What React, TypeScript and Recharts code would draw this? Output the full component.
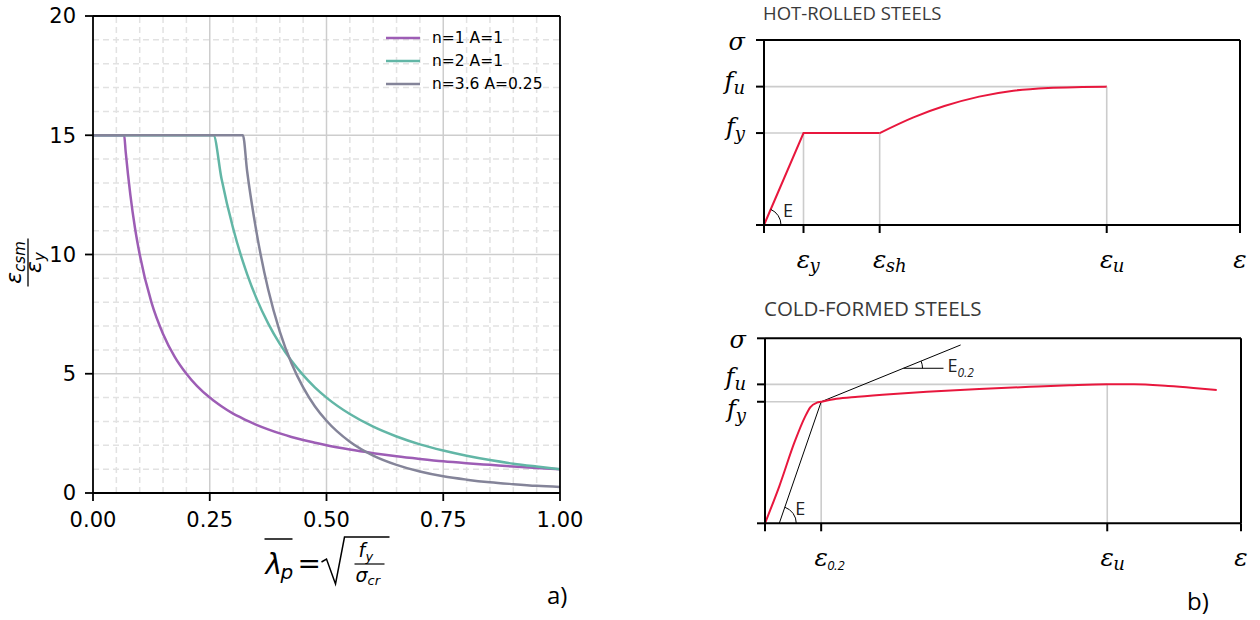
import React from "react";
import { LineChart, Line, XAxis, YAxis, ReferenceLine, ReferenceDot, Legend } from "recharts";

const SANS = "DejaVu Sans";
const MATH = "DejaVu Serif";
const UI = "Open Sans";

// ---- panel a: CSM base curve
const lambdaP = [0, 0.0667, 0.07, 0.08, 0.09, 0.1, 0.125, 0.15, 0.175, 0.2, 0.25, 0.258, 0.275, 0.3, 0.321, 0.33, 0.35, 0.375, 0.4, 0.425, 0.45, 0.475, 0.5, 0.55, 0.6, 0.65, 0.7, 0.75, 0.8, 0.85, 0.9, 0.95, 1.0];
const csmN1A1 = [15, 15, 14.3, 12.5, 11.1, 10, 8, 6.67, 5.71, 5, 4, 3.88, 3.64, 3.33, 3.12, 3.03, 2.86, 2.67, 2.5, 2.35, 2.22, 2.11, 2, 1.82, 1.67, 1.54, 1.43, 1.33, 1.25, 1.18, 1.11, 1.05, 1];
const csmN2A1 = [15, 15, 15, 15, 15, 15, 15, 15, 15, 15, 15, 15, 13.2, 11.1, 9.7, 9.18, 8.16, 7.11, 6.25, 5.54, 4.94, 4.43, 4.0, 3.31, 2.78, 2.37, 2.04, 1.78, 1.56, 1.38, 1.23, 1.11, 1.0];
const csmN36A025 = [15, 15, 15, 15, 15, 15, 15, 15, 15, 15, 15, 15, 15, 15, 15, 13.5, 10.95, 8.54, 6.77, 5.44, 4.43, 3.64, 3.03, 2.15, 1.57, 1.18, 0.9, 0.7, 0.56, 0.45, 0.37, 0.3, 0.25];
const seriesNames = ["n=1 A=1", "n=2 A=1", "n=3.6 A=0.25"];
const seriesColors = ["#9d5db5", "#62b6a6", "#848499"];

const xMajorTicks = [0, 0.25, 0.5, 0.75, 1];
const xMinorTicks = [0.05, 0.1, 0.15, 0.2, 0.3, 0.35, 0.4, 0.45, 0.55, 0.6, 0.65, 0.7, 0.8, 0.85, 0.9, 0.95];
const yMajorTicks = [0, 5, 10, 15, 20];
const yMinorTicks = [1, 2, 3, 4, 6, 7, 8, 9, 11, 12, 13, 14, 16, 17, 18, 19];

const csmData = lambdaP.map((lam, i) => ({ lam, s1: csmN1A1[i], s2: csmN2A1[i], s3: csmN36A025[i] }));

// ---- panel b: hot-rolled steels
const hotElasticStrain = [0, 8.3, 24.3];
const hotElasticStress = [0, 49.7, 49.7];
const hotHardenStrain = [24.3, 31.4, 37.9, 45.2, 52.4, 59.7, 66.9, 72.0];
const hotHardenStress = [49.7, 58.2, 64.3, 69.4, 72.6, 74.1, 74.6, 74.8];
const hotXTicks = [0, 8.3, 24.3, 72.0, 100];
const hotXLabels = [["", ""], ["ε", "y"], ["ε", "sh"], ["ε", "u"], ["ε", ""]];
const hotYTicks = [0, 49.7, 74.8, 100];
const hotYLabels = [["", ""], ["f", "y"], ["f", "u"], ["σ", ""]];

// ---- panel b: cold-formed steels
const coldStrain = [0, 3.0, 6.3, 8.4, 9.5, 10.9, 11.8, 15, 19.5, 27, 34, 45, 55.7, 64, 71.9, 77.5, 84.7, 90, 94.9];
const coldStress = [0, 20, 44.5, 57.5, 62.7, 65.2, 65.7, 67.3, 68.4, 69.9, 71.1, 72.6, 73.8, 74.6, 75.1, 75.1, 74.2, 73.2, 72.1];
const coldXTicks = [0, 11.8, 71.9, 100];
const coldXLabels = [["", ""], ["ε", "0.2"], ["ε", "u"], ["ε", ""]];
const coldYTicks = [0, 65.7, 75.1, 100];
const coldYLabels = [["", ""], ["f", "y"], ["f", "u"], ["σ", ""]];
const coldOffsetLine = [{ x: 3.0, y: 0 }, { x: 11.8, y: 65.7 }];
const coldTangent = [{ x: 11.8, y: 65.7 }, { x: 41.1, y: 96.4 }];
const coldTangentBase = [{ x: 29.1, y: 83.8 }, { x: 37.5, y: 83.8 }];

const pts = (xs: number[], ys: number[]) => xs.map((x, i) => ({ x, y: ys[i] }));

const RED = "#e8173d";
const REFGREY = "#cccccc";

function LegendBox({ payload }: any) {
  return (
    <div style={{ fontFamily: SANS, fontSize: 15.5, color: "#000" }}>
      {(payload || []).map((e: any) => (
        <div key={e.value} style={{ display: "flex", alignItems: "center", height: 23.3 }}>
          <svg width={34} height={4}>
            <line x1={0} y1={2} x2={34} y2={2} stroke={e.color} strokeWidth={2.5} />
          </svg>
          <span style={{ marginLeft: 12 }}>{e.value}</span>
        </div>
      ))}
    </div>
  );
}

function LambdaLabel({ viewBox }: any) {
  const vb = viewBox || { x: 93, y: 493, width: 467, height: 0 };
  const cx = vb.x + vb.width / 2;
  const y0 = vb.y;
  return (
    <g fill="#000" fontFamily={SANS}>
      <line x1={cx - 62} x2={cx - 34} y1={y0 + 46} y2={y0 + 46} stroke="#000" strokeWidth={1.5} />
      <text x={cx - 61} y={y0 + 81} fontSize={28} fontStyle="italic">λ</text>
      <text x={cx - 46} y={y0 + 86} fontSize={20} fontStyle="italic">p</text>
      <text x={cx - 29} y={y0 + 80} fontSize={28}>=</text>
      <path
        d={`M ${cx - 5} ${y0 + 69} L ${cx} ${y0 + 66} L ${cx + 9} ${y0 + 91} L ${cx + 18} ${y0 + 44} L ${cx + 63} ${y0 + 44}`}
        fill="none"
        stroke="#000"
        strokeWidth={1.5}
      />
      <text x={cx + 32} y={y0 + 64} fontSize={19} fontStyle="italic">f</text>
      <text x={cx + 39} y={y0 + 68} fontSize={13} fontStyle="italic">y</text>
      <line x1={cx + 28} x2={cx + 58} y1={y0 + 71} y2={y0 + 71} stroke="#000" strokeWidth={1.2} />
      <text x={cx + 29} y={y0 + 89} fontSize={19} fontStyle="italic">σ</text>
      <text x={cx + 41} y={y0 + 92} fontSize={13} fontStyle="italic">cr</text>
      <text x={vb.x + vb.width - 13} y={y0 + 111} fontSize={24} fontFamily={UI}>a)</text>
    </g>
  );
}

function CsmLabel({ viewBox }: any) {
  const vb = viewBox || { x: 92, y: 16, width: 1, height: 477 };
  const tx = vb.x + (vb.width || 0) - 64;
  const ty = vb.y + vb.height / 2 + 8;
  return (
    <g transform={`translate(${tx}, ${ty}) rotate(-90)`} fill="#000" fontFamily={SANS} fontStyle="italic">
      <text x={0} y={-8} textAnchor="middle" fontSize={22}>
        ε<tspan fontSize={15} dy={4}>csm</tspan>
      </text>
      <line x1={-24} x2={24} y1={-1} y2={-1} stroke="#000" strokeWidth={1.3} />
      <text x={0} y={12} textAnchor="middle" fontSize={22}>
        ε<tspan fontSize={15} dy={4}>y</tspan>
      </text>
    </g>
  );
}

function StrainTick({ x, y, payload, labels, ticks }: any) {
  const lab = labels[ticks.indexOf(payload.value)];
  if (!lab || !lab[0]) return <g />;
  const small = lab[1] === "0.2";
  return (
    <g fill="#000">
      <text x={x} y={y + 35} textAnchor="middle" fontFamily={MATH} fontStyle="italic" fontSize={25}>
        {lab[0]}
      </text>
      {lab[1] ? (
        <text x={x + 6} y={y + 39} fontFamily={small ? UI : MATH} fontStyle="italic" fontSize={small ? 13 : 18}>
          {lab[1]}
        </text>
      ) : null}
    </g>
  );
}

function StressTick({ x, y, payload, labels, ticks, nudge }: any) {
  const i = ticks.indexOf(payload.value);
  const lab = labels[i];
  if (!lab || !lab[0]) return <g />;
  const dy = (lab[1] ? 2 : 10) + ((nudge && nudge[i]) || 0);
  return (
    <text x={x} y={y + dy} textAnchor="end" fontFamily={MATH} fontStyle="italic" fontSize={24} fill="#000">
      {lab[0]}
      {lab[1] ? (
        <tspan fontSize={18} dy={5}>
          {lab[1]}
        </tspan>
      ) : null}
    </text>
  );
}

function AngleMark({ cx, cy, r, deg, text, tx, ty, sub }: any) {
  if (cx == null || cy == null) return <g />;
  const a = (deg * Math.PI) / 180;
  return (
    <g>
      <path
        d={`M ${cx + r} ${cy} A ${r} ${r} 0 0 0 ${cx + r * Math.cos(a)} ${cy - r * Math.sin(a)}`}
        fill="none"
        stroke="#000"
        strokeWidth={1}
      />
      <text x={cx + tx} y={cy + ty} fontFamily={UI} fontSize={18} fill="#222">
        {text}
        {sub ? (
          <tspan fontSize={12} fontStyle="italic" dy={5}>
            {sub}
          </tspan>
        ) : null}
      </text>
    </g>
  );
}

function TitleLabel({ viewBox, text, dy, size }: any) {
  const vb = viewBox || { x: 64, y: 40 };
  return (
    <text x={vb.x - 1} y={vb.y + (vb.height || 0) + dy} fontFamily={UI} fontSize={size} fill="#3a3a3a">
      {text}
    </text>
  );
}

function BLabel({ viewBox }: any) {
  const vb = viewBox || { x: 65, y: 243, width: 476 };
  return (
    <text x={vb.x + vb.width - 54} y={vb.y + 87} fontFamily={UI} fontSize={24} fill="#000">
      b)
    </text>
  );
}

const frameAxis = { stroke: "#000", strokeWidth: 2 };

// each axis is 1px deep (a 0px axis is not drawn), margins below are 1px smaller to compensate
function StressStrainPanel({
  title,
  titleDy,
  titleSize,
  height,
  margin,
  xTicks,
  xLabels,
  yTicks,
  yLabels,
  yNudge,
  children,
  bottomLabel,
}: any) {
  return (
    <LineChart width={560} height={height} margin={margin}>
      <XAxis
        type="number"
        dataKey="x"
        domain={[0, 100]}
        ticks={xTicks}
        interval={0}
        height={1}
        tickSize={8}
        tickMargin={0}
        axisLine={frameAxis}
        tickLine={frameAxis}
        tick={(p: any) => <StrainTick {...p} labels={xLabels} ticks={xTicks} />}
        label={bottomLabel}
      />
      <XAxis
        xAxisId="top"
        orientation="top"
        type="number"
        domain={[0, 100]}
        ticks={[0, 100]}
        height={1}
        tick={false}
        tickLine={false}
        axisLine={frameAxis}
        label={(p: any) => <TitleLabel viewBox={p.viewBox} text={title} dy={titleDy} size={titleSize} />}
      />
      <YAxis
        type="number"
        domain={[0, 100]}
        ticks={yTicks}
        interval={0}
        width={1}
        tickSize={8}
        tickMargin={11}
        axisLine={frameAxis}
        tickLine={frameAxis}
        tick={(p: any) => <StressTick {...p} labels={yLabels} ticks={yTicks} nudge={yNudge} />}
      />
      <YAxis
        yAxisId="right"
        orientation="right"
        type="number"
        domain={[0, 100]}
        ticks={[0, 100]}
        width={1}
        tick={false}
        tickLine={false}
        axisLine={frameAxis}
      />
      {children}
    </LineChart>
  );
}

export default function App() {
  const axisStroke = { stroke: "#000", strokeWidth: 1.8 };
  const tickFont = { fontSize: 21, fill: "#000", fontFamily: SANS };

  const hotElastic = pts(hotElasticStrain, hotElasticStress);
  const hotHarden = pts(hotHardenStrain, hotHardenStress);
  const cold = pts(coldStrain, coldStress);
  const [, hEy, hEsh, hEu] = hotXTicks;
  const [, hFy, hFu] = hotYTicks;
  const [, cE02, cEu] = coldXTicks;
  const [, cFy, cFu] = coldYTicks;

  return (
    <div style={{ position: "absolute", left: 0, top: 0, width: 1260, height: 620, background: "#fff" }}>
      {/* panel a */}
      <div style={{ position: "absolute", left: 0, top: 0 }}>
        <LineChart width={600} height={620} data={csmData} margin={{ top: 15, right: 39, bottom: 125, left: 91 }}>
          <XAxis
            type="number"
            dataKey="lam"
            domain={[0, 1]}
            ticks={xMajorTicks}
            interval={0}
            height={1}
            tickSize={8}
            tickMargin={11}
            axisLine={axisStroke}
            tickLine={axisStroke}
            tick={tickFont}
            tickFormatter={(v: number) => v.toFixed(2)}
            label={(p: any) => <LambdaLabel viewBox={p.viewBox} />}
          />
          <XAxis
            xAxisId="minor"
            type="number"
            domain={[0, 1]}
            ticks={xMinorTicks}
            interval={0}
            height={1}
            tickSize={4.5}
            axisLine={false}
            tickLine={axisStroke}
            tick={false}
          />
          <XAxis xAxisId="top" orientation="top" type="number" domain={[0, 1]} ticks={[0, 1]} height={1} tick={false} tickLine={false} axisLine={axisStroke} />
          <YAxis
            type="number"
            domain={[0, 20]}
            ticks={yMajorTicks}
            interval={0}
            width={1}
            tickSize={8}
            tickMargin={9}
            axisLine={axisStroke}
            tickLine={axisStroke}
            tick={tickFont}
            label={(p: any) => <CsmLabel viewBox={p.viewBox} />}
          />
          <YAxis
            yAxisId="minor"
            type="number"
            domain={[0, 20]}
            ticks={yMinorTicks}
            interval={0}
            width={1}
            tickSize={4.5}
            axisLine={false}
            tickLine={axisStroke}
            tick={false}
          />
          <YAxis yAxisId="right" orientation="right" type="number" domain={[0, 20]} ticks={[0, 20]} width={1} tick={false} tickLine={false} axisLine={axisStroke} />

          {xMinorTicks.map((v) => (
            <ReferenceLine key={"xm" + v} x={v} stroke="#e2e2e2" strokeWidth={1.5} strokeDasharray="6 4" />
          ))}
          {yMinorTicks.map((v) => (
            <ReferenceLine key={"ym" + v} y={v} stroke="#e2e2e2" strokeWidth={1.5} strokeDasharray="6 4" />
          ))}
          {xMajorTicks.slice(1, -1).map((v) => (
            <ReferenceLine key={"xM" + v} x={v} stroke="#cdcdcd" strokeWidth={1.5} />
          ))}
          {yMajorTicks.slice(1, -1).map((v) => (
            <ReferenceLine key={"yM" + v} y={v} stroke="#cdcdcd" strokeWidth={1.5} />
          ))}

          <Line dataKey="s1" name={seriesNames[0]} stroke={seriesColors[0]} strokeWidth={2.5} dot={false} type="monotone" isAnimationActive={false} />
          <Line dataKey="s2" name={seriesNames[1]} stroke={seriesColors[1]} strokeWidth={2.5} dot={false} type="monotone" isAnimationActive={false} />
          <Line dataKey="s3" name={seriesNames[2]} stroke={seriesColors[2]} strokeWidth={2.5} dot={false} type="monotone" isAnimationActive={false} />
          <Legend
            layout="vertical"
            align="center"
            verticalAlign="middle"
            content={(p: any) => <LegendBox payload={p.payload} />}
            wrapperStyle={{ left: 386, top: 26, width: "auto" }}
          />
        </LineChart>
      </div>

      {/* panel b, hot-rolled */}
      <div style={{ position: "absolute", left: 700, top: 0 }}>
        <StressStrainPanel
          title="HOT-ROLLED STEELS"
          titleDy={-20}
          titleSize={18.5}
          height={300}
          margin={{ top: 39, right: 19, bottom: 74, left: 63 }}
          xTicks={hotXTicks}
          xLabels={hotXLabels}
          yTicks={hotYTicks}
          yLabels={hotYLabels}
          yNudge={[0, 0, 0, 0]}
        >
          <ReferenceLine segment={[{ x: 0, y: hFu }, { x: hEu, y: hFu }]} stroke={REFGREY} strokeWidth={1.6} />
          <ReferenceLine segment={[{ x: 0, y: hFy }, { x: hEy, y: hFy }]} stroke={REFGREY} strokeWidth={1.6} />
          <ReferenceLine segment={[{ x: hEy, y: 0 }, { x: hEy, y: hFy }]} stroke={REFGREY} strokeWidth={1.6} />
          <ReferenceLine segment={[{ x: hEsh, y: 0 }, { x: hEsh, y: hFy }]} stroke={REFGREY} strokeWidth={1.6} />
          <ReferenceLine segment={[{ x: hEu, y: 0 }, { x: hEu, y: hFu }]} stroke={REFGREY} strokeWidth={1.6} />
          <Line data={hotElastic} dataKey="y" stroke={RED} strokeWidth={2} dot={false} type="linear" isAnimationActive={false} />
          <Line data={hotHarden} dataKey="y" stroke={RED} strokeWidth={2} dot={false} type="monotone" isAnimationActive={false} />
          <ReferenceDot
            x={0}
            y={0}
            r={0}
            shape={(p: any) => <AngleMark cx={p.cx} cy={p.cy} r={17} deg={67} text="E" tx={19} ty={-8} />}
          />
        </StressStrainPanel>
      </div>

      {/* panel b, cold-formed */}
      <div style={{ position: "absolute", left: 700, top: 280 }}>
        <StressStrainPanel
          title="COLD-FORMED STEELS"
          titleDy={-22}
          titleSize={20.5}
          height={340}
          margin={{ top: 57.3, right: 18, bottom: 95.7, left: 64 }}
          xTicks={coldXTicks}
          xLabels={coldXLabels}
          yTicks={coldYTicks}
          yLabels={coldYLabels}
          yNudge={[0, 13, -1, 0]}
          bottomLabel={(p: any) => <BLabel viewBox={p.viewBox} />}
        >
          <ReferenceLine segment={[{ x: 0, y: cFu }, { x: cEu, y: cFu }]} stroke={REFGREY} strokeWidth={1.6} />
          <ReferenceLine segment={[{ x: 0, y: cFy }, { x: cE02, y: cFy }]} stroke={REFGREY} strokeWidth={1.6} />
          <ReferenceLine segment={[{ x: cE02, y: 0 }, { x: cE02, y: cFy }]} stroke={REFGREY} strokeWidth={1.6} />
          <ReferenceLine segment={[{ x: cEu, y: 0 }, { x: cEu, y: cFu }]} stroke={REFGREY} strokeWidth={1.6} />
          <ReferenceLine segment={coldOffsetLine} stroke="#000" strokeWidth={1} />
          <ReferenceLine segment={coldTangent} stroke="#000" strokeWidth={1} />
          <ReferenceLine segment={coldTangentBase} stroke="#000" strokeWidth={1} />
          <Line data={cold} dataKey="y" stroke={RED} strokeWidth={2} dot={false} type="monotone" isAnimationActive={false} />
          <ReferenceDot
            x={coldOffsetLine[0].x}
            y={0}
            r={0}
            shape={(p: any) => <AngleMark cx={p.cx} cy={p.cy} r={17} deg={71} text="E" tx={16} ty={-8} />}
          />
          <ReferenceDot
            x={coldTangentBase[0].x}
            y={coldTangentBase[0].y}
            r={0}
            shape={(p: any) => <AngleMark cx={p.cx} cy={p.cy} r={19} deg={22} text="E" sub="0.2" tx={44} ty={4} />}
          />
        </StressStrainPanel>
      </div>
    </div>
  );
}
